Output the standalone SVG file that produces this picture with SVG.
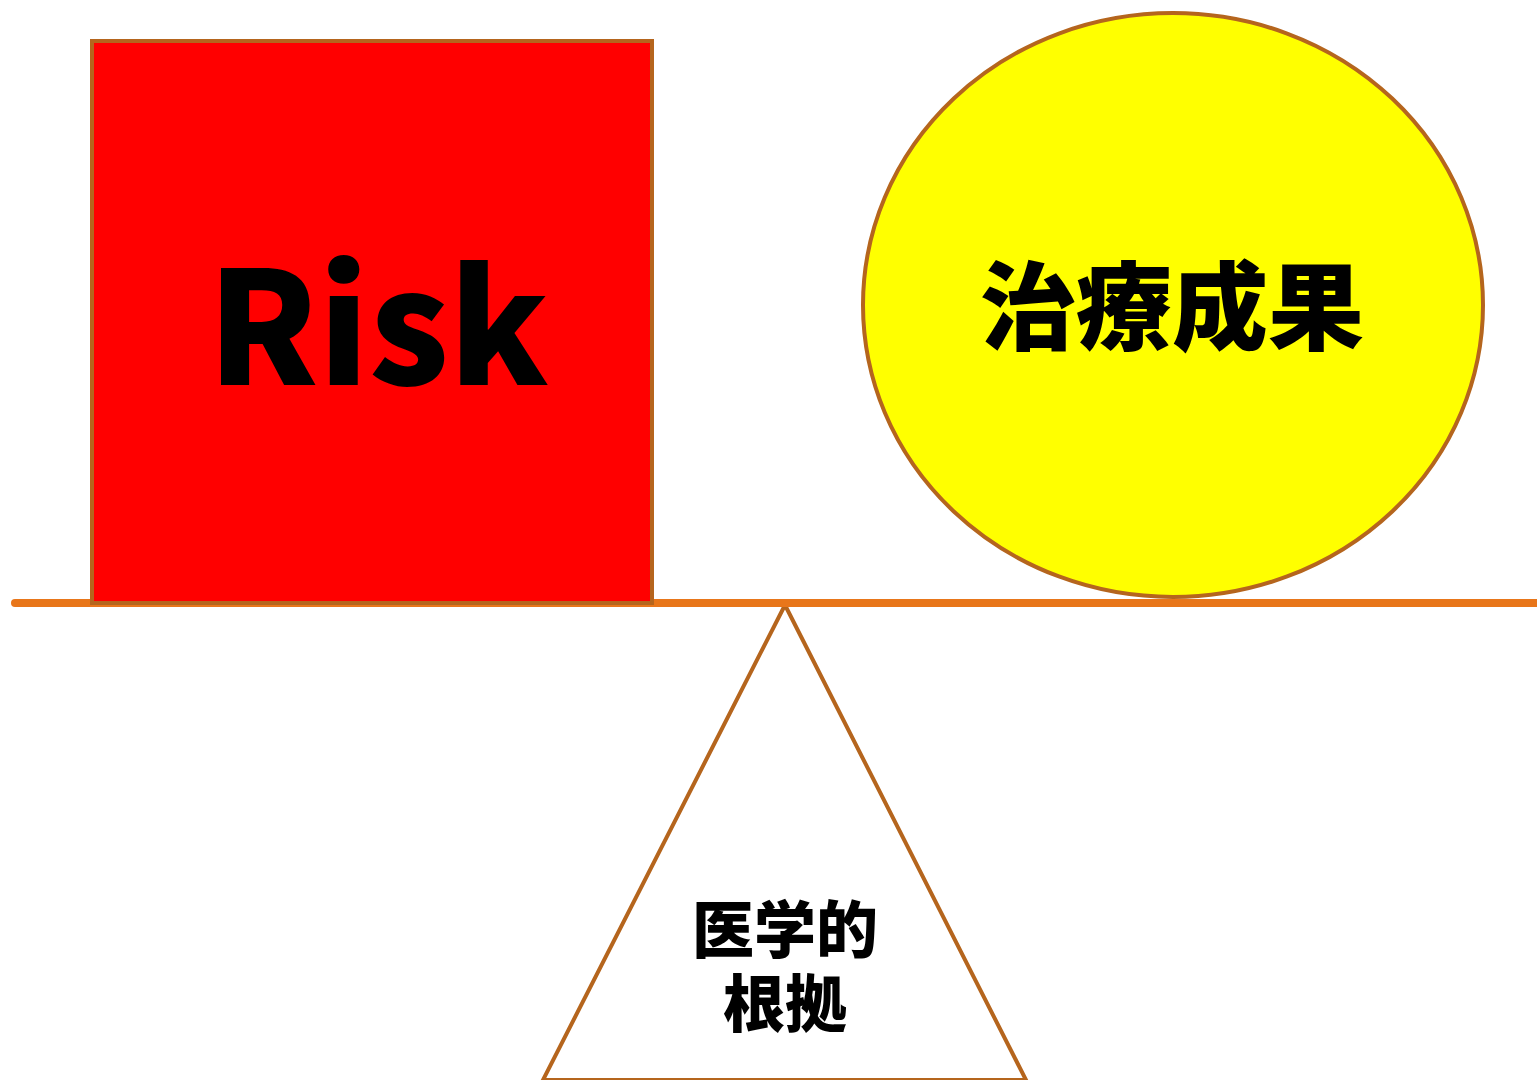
<svg xmlns="http://www.w3.org/2000/svg" width="1537" height="1080" viewBox="0 0 1537 1080">
<style>
.lbl{font-family:"Noto Sans CJK JP","Noto Sans",sans-serif;font-weight:900;fill:#000;text-anchor:middle}
.edge{stroke:#b5651d;stroke-width:4}
</style>
<rect width="1537" height="1080" fill="#fff"/>
<g id="fulcrum">
<polygon points="785,605 543,1080 1026,1080" fill="#fff" class="edge" stroke-linejoin="miter"/>
<text class="lbl" x="785" y="953" font-size="62">医学的</text>
<text class="lbl" x="785" y="1027" font-size="62">根拠</text>
</g>
<g id="connectors">
<line x1="15" y1="603" x2="1540" y2="603" stroke="#e8761a" stroke-width="8" stroke-linecap="round"/>
</g>
<g id="risk">
<rect x="92" y="41" width="560" height="562" fill="#ff0000" class="edge"/>
<text class="lbl" x="378" y="385" font-size="157">Risk</text>
</g>
<g id="outcome">
<ellipse cx="1173" cy="305" rx="310" ry="292" fill="#ffff00" class="edge"/>
<text class="lbl" x="1172" y="342" font-size="96">治療成果</text>
</g>
</svg>
